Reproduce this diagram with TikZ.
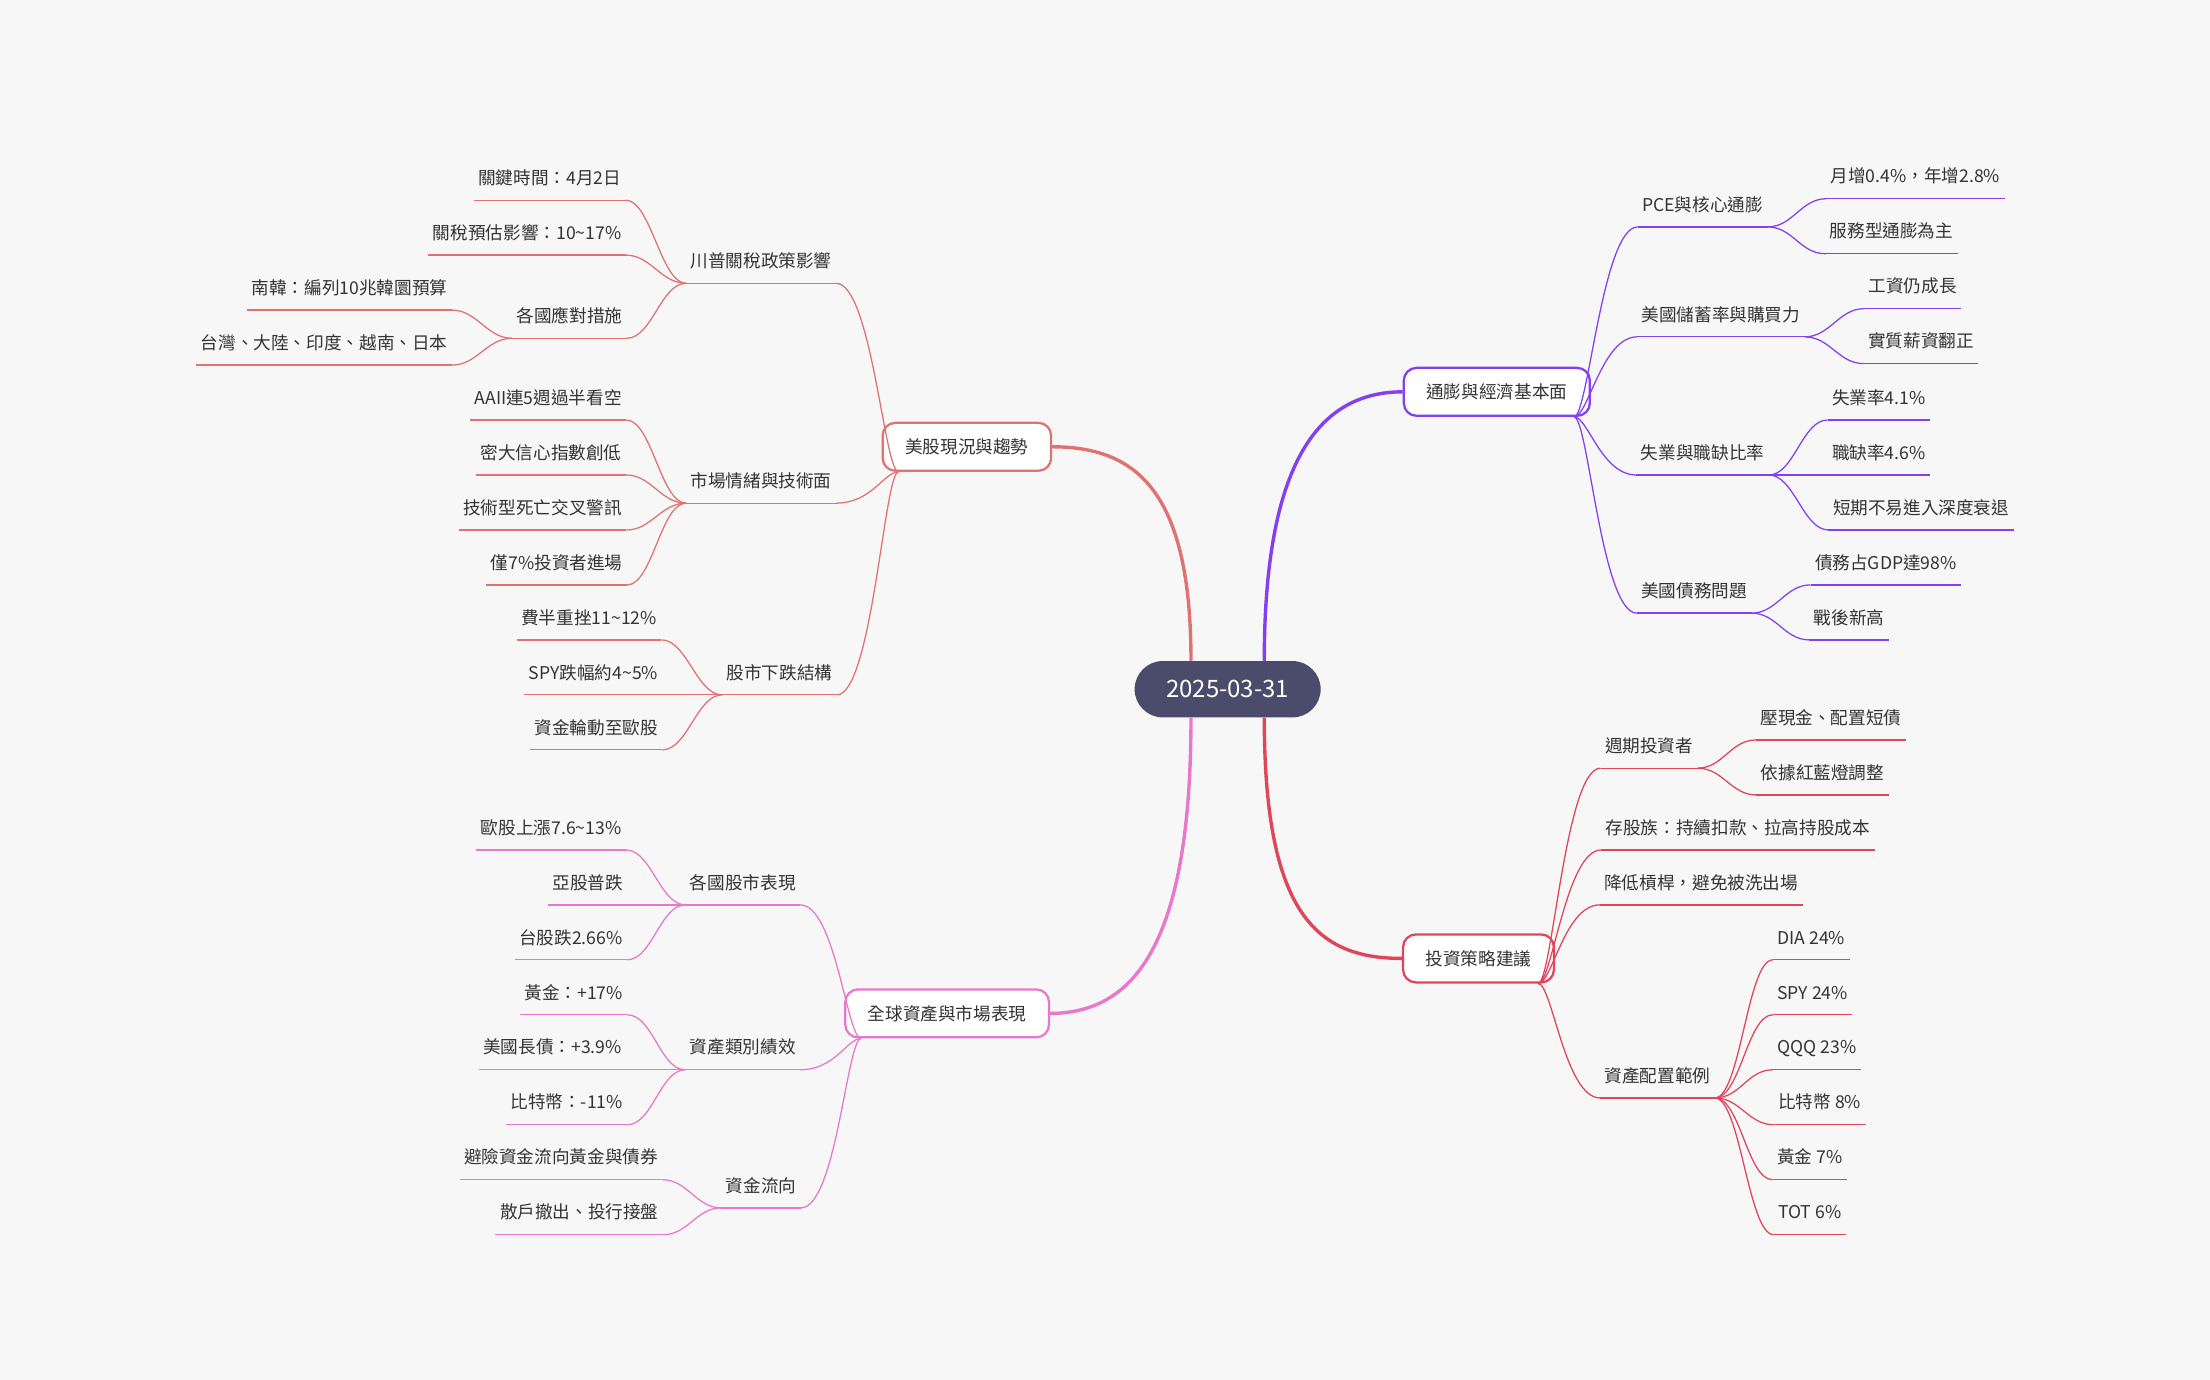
\documentclass[tikz,border=0pt]{standalone}
\usepackage{fontspec}
\setmainfont{Noto Sans CJK TC}
\usetikzlibrary{positioning}
\definecolor{bg}{HTML}{F7F7F7}
\definecolor{txt}{HTML}{333333}
\definecolor{hub}{HTML}{4B4C6B}
\definecolor{pcol}{HTML}{8440F0}
\definecolor{rcol}{HTML}{E0455A}
\definecolor{scol}{HTML}{E07272}
\definecolor{kcol}{HTML}{E878CC}
\tikzset{
  leaf/.style={text=txt, font=\fontsize{12.5}{15}\selectfont, inner xsep=3pt, inner ysep=8pt,
    text height=10pt, text depth=3pt, anchor=south,
    append after command={(\tikzlastnode.south west) edge[draw=#1, line width=0.9pt] (\tikzlastnode.south east)}},
  topic/.style={draw=#1, line width=1.6pt, fill=white, rounded corners=9pt, text=txt,
    font=\fontsize{12.5}{15}\selectfont, minimum height=34pt, inner xsep=16pt},
  link/.style={draw=#1, line width=0.9pt},
  main/.style={draw=#1, line width=2.4pt},
}
\begin{document}
\begin{tikzpicture}[x=1pt,y=-1pt]
\fill[bg] (0,0) rectangle (1568,979);
\useasboundingbox (0,0) rectangle (1568,979);

% main branches first, under the boxes
\node[fill=hub, rounded corners=20pt, text=white, font=\fontsize{17}{20}\selectfont,
  minimum height=40pt, minimum width=132pt] (hub) at (871,489) {2025-03-31};

% right, purple
\node[topic=pcol] (r1) at (1062,278) {通膨與經濟基本面};
\node[leaf=pcol] (r1a) at (1208,161) {PCE與核心通膨};
\node[leaf=pcol] (r1a1) at (1359,141) {月增0.4\%，年增2.8\%};
\node[leaf=pcol] (r1a2) at (1342,180) {服務型通膨為主};
\node[leaf=pcol] (r1b) at (1221,239) {美國儲蓄率與購買力};
\node[leaf=pcol] (r1b1) at (1357,219) {工資仍成長};
\node[leaf=pcol] (r1b2) at (1363,258) {實質薪資翻正};
\node[leaf=pcol] (r1c) at (1208,337) {失業與職缺比率};
\node[leaf=pcol] (r1c1) at (1333,298) {失業率4.1\%};
\node[leaf=pcol] (r1c2) at (1333,337) {職缺率4.6\%};
\node[leaf=pcol] (r1c3) at (1363,376) {短期不易進入深度衰退};
\node[leaf=pcol] (r1d) at (1202,435) {美國債務問題};
\node[leaf=pcol] (r1d1) at (1338,415) {債務占GDP達98\%};
\node[leaf=pcol] (r1d2) at (1312,454) {戰後新高};

% right, red
\node[topic=rcol] (r2) at (1049,680) {投資策略建議};
\node[leaf=rcol] (r2a) at (1170,545) {週期投資者};
\node[leaf=rcol] (r2a1) at (1299,525) {壓現金、配置短債};
\node[leaf=rcol] (r2a2) at (1293,564) {依據紅藍燈調整};
\node[leaf=rcol] (r2b) at (1233,603) {存股族：持續扣款、拉高持股成本};
\node[leaf=rcol] (r2c) at (1207,642) {降低槓桿，避免被洗出場};
\node[leaf=rcol] (r2d) at (1176,779) {資產配置範例};
\node[leaf=rcol] (r2d1) at (1285,681) {DIA 24\%};
\node[leaf=rcol] (r2d2) at (1286,720) {SPY 24\%};
\node[leaf=rcol] (r2d3) at (1289,759) {QQQ 23\%};
\node[leaf=rcol] (r2d4) at (1291,798) {比特幣 8\%};
\node[leaf=rcol] (r2d5) at (1284,837) {黃金 7\%};
\node[leaf=rcol] (r2d6) at (1284,876) {TOT 6\%};

% left, salmon
\node[topic=scol] (l1) at (686,317) {美股現況與趨勢};
\node[leaf=scol] (l1a) at (540,201) {川普關稅政策影響};
\node[leaf=scol] (l1a1) at (390,142) {關鍵時間：4月2日};
\node[leaf=scol] (l1a2) at (374,181) {關稅預估影響：10\textasciitilde17\%};
\node[leaf=scol] (l1a3) at (404,240) {各國應對措施};
\node[leaf=scol] (l1a31) at (248,220) {南韓：編列10兆韓圜預算};
\node[leaf=scol] (l1a32) at (230,259) {台灣、大陸、印度、越南、日本};
\node[leaf=scol] (l1b) at (540,357) {市場情緒與技術面};
\node[leaf=scol] (l1b1) at (389,298) {AAII連5週過半看空};
\node[leaf=scol] (l1b2) at (391,337) {密大信心指數創低};
\node[leaf=scol] (l1b3) at (385,376) {技術型死亡交叉警訊};
\node[leaf=scol] (l1b4) at (395,415) {僅7\%投資者進場};
\node[leaf=scol] (l1c) at (553,493) {股市下跌結構};
\node[leaf=scol] (l1c1) at (418,454) {費半重挫11\textasciitilde12\%};
\node[leaf=scol] (l1c2) at (421,493) {SPY跌幅約4\textasciitilde5\%};
\node[leaf=scol] (l1c3) at (423,532) {資金輪動至歐股};

% left, pink
\node[topic=kcol] (l2) at (672,719) {全球資產與市場表現};
\node[leaf=kcol] (l2a) at (527,642) {各國股市表現};
\node[leaf=kcol] (l2a1) at (391,603) {歐股上漲7.6\textasciitilde13\%};
\node[leaf=kcol] (l2a2) at (417,642) {亞股普跌};
\node[leaf=kcol] (l2a3) at (405,681) {台股跌2.66\%};
\node[leaf=kcol] (l2b) at (527,759) {資產類別績效};
\node[leaf=kcol] (l2b1) at (407,720) {黃金：+17\%};
\node[leaf=kcol] (l2b2) at (392,759) {美國長債：+3.9\%};
\node[leaf=kcol] (l2b3) at (402,798) {比特幣：-11\%};
\node[leaf=kcol] (l2c) at (540,857) {資金流向};
\node[leaf=kcol] (l2c1) at (398,837) {避險資金流向黃金與債券};
\node[leaf=kcol] (l2c2) at (411,876) {散戶撤出、投行接盤};

% main branches
\draw[main=pcol] ([xshift=26pt]hub.north) .. controls +(0,-140) and +(-60,0) .. (r1.west);
\draw[main=rcol] ([xshift=26pt]hub.south) .. controls +(0,140) and +(-60,0) .. (r2.west);
\draw[main=scol] ([xshift=-26pt]hub.north) .. controls +(0,-120) and +(60,0) .. (l1.east);
\draw[main=kcol] ([xshift=-26pt]hub.south) .. controls +(0,160) and +(60,0) .. (l2.east);

\coordinate (r1o) at ([xshift=-12pt]r1.south east);
\coordinate (r2o) at ([xshift=-12pt]r2.south east);
\coordinate (l1o) at ([xshift=12pt]l1.south west);
\coordinate (l2o) at ([xshift=12pt]l2.south west);

% right links
\foreach \p/\c in {r1o/r1a, r1o/r1b, r1o/r1c, r1o/r1d}
  \draw[link=pcol] (\p) .. controls +(10,0) and +(-25,0) .. (\c.south west);
\foreach \p/\c in {r1a/r1a1, r1a/r1a2, r1b/r1b1, r1b/r1b2, r1c/r1c1, r1c/r1c2, r1c/r1c3, r1d/r1d1, r1d/r1d2}
  \draw[link=pcol] (\p.south east) .. controls +(18,0) and +(-18,0) .. (\c.south west);
\foreach \p/\c in {r2o/r2a, r2o/r2b, r2o/r2c, r2o/r2d}
  \draw[link=rcol] (\p) .. controls +(10,0) and +(-25,0) .. (\c.south west);
\foreach \p/\c in {r2a/r2a1, r2a/r2a2, r2d/r2d1, r2d/r2d2, r2d/r2d3, r2d/r2d4, r2d/r2d5, r2d/r2d6}
  \draw[link=rcol] (\p.south east) .. controls +(18,0) and +(-18,0) .. (\c.south west);

% left links
\foreach \p/\c in {l1o/l1a, l1o/l1b, l1o/l1c}
  \draw[link=scol] (\p) .. controls +(-10,0) and +(25,0) .. (\c.south east);
\foreach \p/\c in {l1a/l1a1, l1a/l1a2, l1a/l1a3, l1a3/l1a31, l1a3/l1a32, l1b/l1b1, l1b/l1b2, l1b/l1b3, l1b/l1b4, l1c/l1c1, l1c/l1c2, l1c/l1c3}
  \draw[link=scol] (\p.south west) .. controls +(-18,0) and +(18,0) .. (\c.south east);
\foreach \p/\c in {l2o/l2a, l2o/l2b, l2o/l2c}
  \draw[link=kcol] (\p) .. controls +(-10,0) and +(25,0) .. (\c.south east);
\foreach \p/\c in {l2a/l2a1, l2a/l2a2, l2a/l2a3, l2b/l2b1, l2b/l2b2, l2b/l2b3, l2c/l2c1, l2c/l2c2}
  \draw[link=kcol] (\p.south west) .. controls +(-18,0) and +(18,0) .. (\c.south east);
\end{tikzpicture}
\end{document}
